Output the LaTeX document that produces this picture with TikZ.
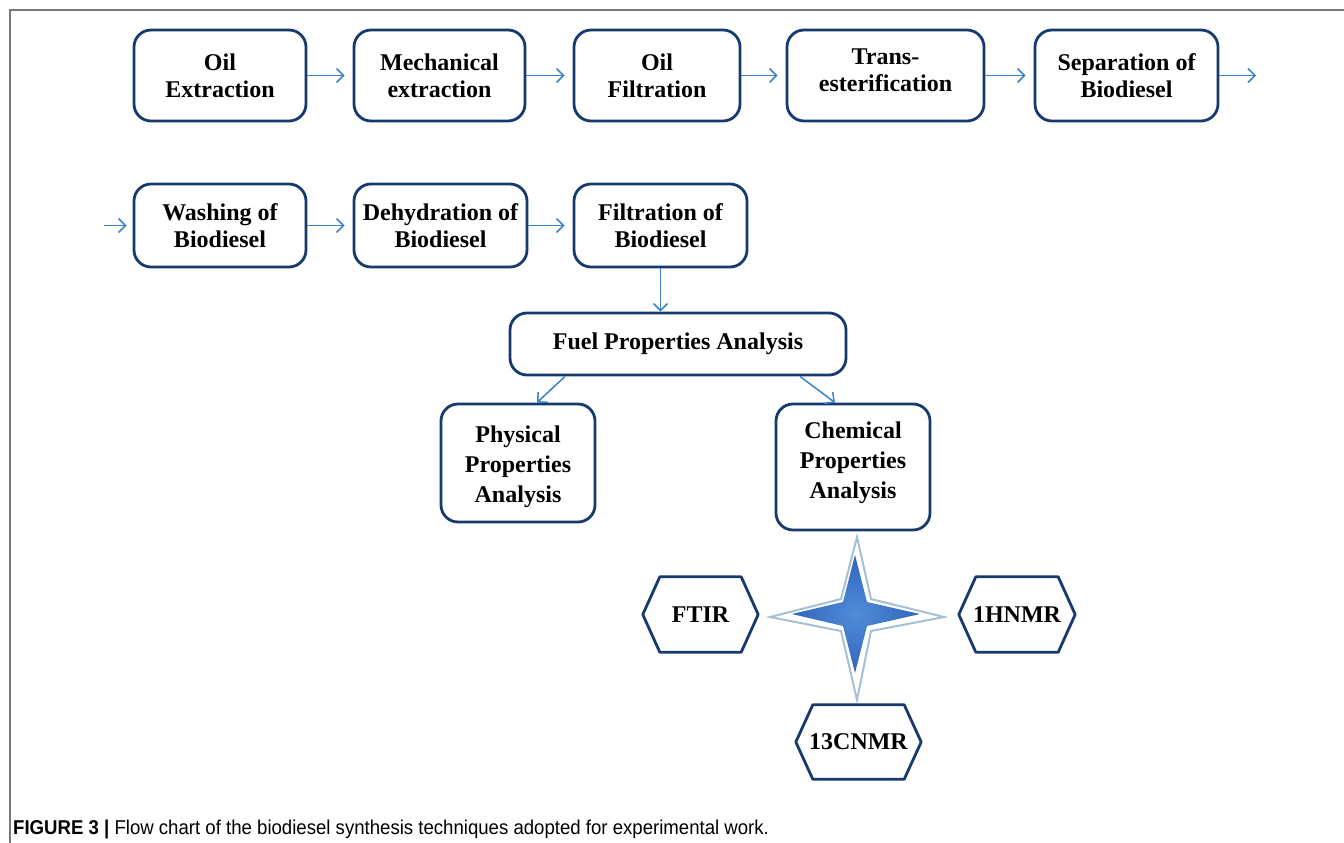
\documentclass[tikz,border=0pt]{standalone}
\usepackage{fontspec}
\setmainfont{Liberation Serif}
\newfontfamily\capfont[FakeStretch=0.93]{Liberation Sans}
\usetikzlibrary{arrows.meta,calc}
\definecolor{navy}{RGB}{22,58,110}
\definecolor{arrblue}{RGB}{60,130,200}
\definecolor{starblue}{RGB}{50,100,190}
\definecolor{starlight}{RGB}{80,140,215}
\definecolor{glow}{RGB}{165,192,215}
\definecolor{framegray}{RGB}{120,120,120}
\tikzset{
  box/.style={draw=navy, line width=2.8pt, rounded corners=17pt, fill=white, align=center,
    font=\fontsize{24}{27}\selectfont\bfseries, inner sep=0pt},
  boxtext/.style={align=center, inner sep=0pt, font=\fontsize{24}{27}\selectfont\bfseries},
  threetext/.style={align=center, inner sep=0pt, font=\fontsize{24}{30}\selectfont\bfseries},
  hexlabel/.style={draw=none, inner sep=0pt, font=\fontsize{24}{27}\selectfont\bfseries},
  hexline/.style={draw=navy, line width=2.8pt, line join=round},
  arr/.style={draw=arrblue, line width=1.5pt, -{Straight Barb[length=7pt,width=14pt,line width=1.5pt]}},
  framestyle/.style={draw=framegray, line width=1.5pt}
}
\begin{document}
\begin{tikzpicture}[x=1pt,y=-1pt]
\useasboundingbox (0,0) rectangle (1344,843);
% frame
\coordinate (f1) at (1344,10);
\coordinate (f2) at (10,10);
\coordinate (f3) at (10,843);
\draw[framestyle] (f1) -- (f2) -- (f3);
% row 1
\node[box, minimum width=172, minimum height=91] (oil) at (220,75.5) {Oil\\Extraction};
\node[box, minimum width=171, minimum height=91] (mech) at (439.5,75.5) {Mechanical\\extraction};
\node[box, minimum width=166, minimum height=91] (filt) at (657,75.5) {Oil\\Filtration};
\node[box, minimum width=197, minimum height=91] (trans) at (885.5,75.5) {};
\node[boxtext] (transt) at ([yshift=5pt]trans.center) {Trans-\\esterification};
\node[box, minimum width=183, minimum height=91] (sep) at (1126.5,75.5) {Separation of\\Biodiesel};
\coordinate (outr) at (1256,75.5);
\draw[arr] (oil.east) -- ([xshift=-8]mech.west);
\draw[arr] (mech.east) -- ([xshift=-8]filt.west);
\draw[arr] (filt.east) -- ([xshift=-8]trans.west);
\draw[arr] (trans.east) -- ([xshift=-8]sep.west);
\draw[arr] (sep.east) -- (outr);
% row 2
\node[box, minimum width=172, minimum height=83] (wash) at (220,225.5) {Washing of\\Biodiesel};
\node[box, minimum width=173, minimum height=83] (dehyd) at (440.5,225.5) {Dehydration of\\Biodiesel};
\node[box, minimum width=173, minimum height=83] (filtb) at (660.5,225.5) {Filtration of\\Biodiesel};
\coordinate (inl) at (104,225.5);
\draw[arr] (inl) -- ([xshift=-6]wash.west);
\draw[arr] (wash.east) -- ([xshift=-8]dehyd.west);
\draw[arr] (dehyd.east) -- ([xshift=-8]filtb.west);
% analysis
\node[box, minimum width=336, minimum height=62] (fuel) at (678,344) {Fuel Properties Analysis};
\node[box, minimum width=154, minimum height=118] (phys) at (518,463) {};
\node[threetext] (physt) at ([yshift=-4pt]phys.center) {Physical\\Properties\\Analysis};
\node[box, minimum width=154, minimum height=126] (chem) at (853,467) {};
\node[threetext] (chemt) at ([yshift=4.5pt]chem.center) {Chemical\\Properties\\Analysis};
\draw[arr] (filtb.south) -- (filtb.south |- fuel.north);
\draw[arr] ([xshift=-113]fuel.south) -- ([xshift=19]phys.north);
\draw[arr] ([xshift=122]fuel.south) -- ([xshift=-18]chem.north);
% star
\draw[glow, line width=2pt, fill=white, line join=miter]
  (857,537) -- (871,599) -- (944,617) -- (871,631) -- (857,700) -- (841,631) -- (770,617) -- (841,599) -- cycle;
\shade[inner color=starlight, outer color=starblue, shading=radial]
  (855,555) -- (867,602) -- (920,614) -- (867,626) -- (855,673) -- (843,626) -- (792,614) -- (843,602) -- cycle;
% hexagons
\node[hexlabel, minimum width=115, minimum height=75] (ftir) at (700.5,614.5) {FTIR};
\node[hexlabel, minimum width=116, minimum height=75] (hnmr) at (1017,614.5) {1HNMR};
\node[hexlabel, minimum width=125, minimum height=74] (cnmr) at (858.5,742) {13CNMR};
\foreach \h in {ftir,hnmr,cnmr}{
  \draw[hexline] (\h.west) -- ([xshift=17]\h.north west) -- ([xshift=-17]\h.north east) -- (\h.east)
    -- ([xshift=-17]\h.south east) -- ([xshift=17]\h.south west) -- cycle;
}
% caption
\node[anchor=base west, inner sep=0pt, font=\capfont\fontsize{20}{24}\selectfont] (cap) at (13,834)
  {\textbf{FIGURE 3 |} Flow chart of the biodiesel synthesis techniques adopted for experimental work.};
\end{tikzpicture}
\end{document}
